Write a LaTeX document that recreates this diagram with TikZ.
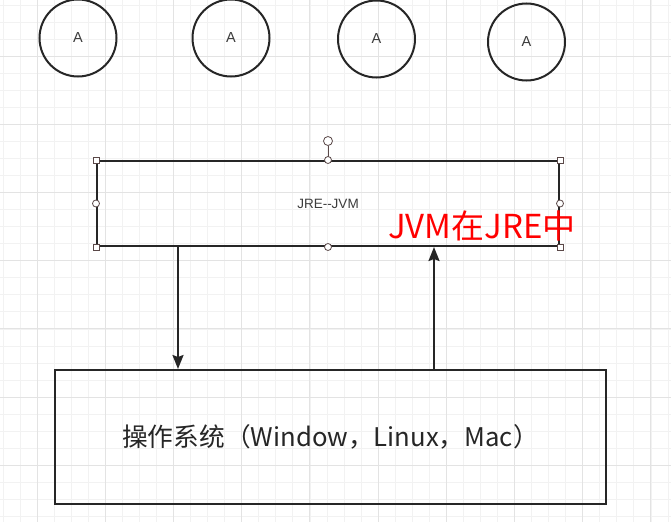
\documentclass[tikz,border=0pt]{standalone}
\usepackage{fontspec}
\setmainfont{Liberation Sans}
\newfontfamily\cjk{Noto Sans CJK SC}
\usepackage{tikz}
\usetikzlibrary{arrows.meta,shapes}
\definecolor{inkgray}{HTML}{262626}
\definecolor{textgray}{HTML}{3C3C3C}
\definecolor{handlegray}{HTML}{5A4848}

\begin{document}
\begin{tikzpicture}[
  state/.style={draw=inkgray,line width=2bp,circle,minimum size=77bp,inner sep=0pt,
    font=\fontsize{14.5bp}{16bp}\selectfont,text=textgray},
  block/.style={draw=inkgray,line width=2bp,rectangle,inner sep=0pt},
  sqhandle/.style={draw=handlegray,fill=white,line width=0.8bp,rectangle,minimum size=6bp,inner sep=0pt},
  rdhandle/.style={draw=handlegray,fill=white,line width=0.8bp,circle,minimum size=7bp,inner sep=0pt},
  flow/.style={-{Stealth[length=14bp,width=11bp,inset=2bp]},line width=2bp,draw=inkgray},
  minorgrid/.style={draw=black!5,line width=0.6bp},
  majorgrid/.style={draw=black!11,line width=0.8bp}
]

\useasboundingbox (0bp,0bp) rectangle (671bp,-522bp);
\fill[white] (0bp,0bp) rectangle (671bp,-522bp);
\begin{scope}
\clip (0bp,0bp) rectangle (671bp,-522bp);
\draw[minorgrid,step=17.05bp,shift={(2.9bp,-4.85bp)}] (-10bp,10bp) grid (680bp,-530bp);
\draw[majorgrid,step=68.2bp,shift={(37bp,-56bp)}] (-70bp,70bp) grid (640bp,-470bp);
\end{scope}

% the four A circles
\node (A1) at (78bp,-38bp)[state] {A};
\node (A2) at (231bp,-38bp)[state] {A};
\node (A3) at (376.5bp,-39bp)[state] {A};
\node (A4) at (526.5bp,-42bp)[state] {A};

% JRE box (selected)
\node (JRE) at (328bp,-203.5bp)[block,minimum width=462bp,minimum height=85bp,
  font=\fontsize{13.5bp}{16bp}\selectfont,text=textgray] {JRE-{}-JVM};
\node (rot) at (328bp,-141bp)[rdhandle,minimum size=9bp] {};
\draw [handlegray,line width=0.8bp] (rot) to (JRE.north);
\node (nw) at (JRE.north west)[sqhandle] {};
\node (ne) at (JRE.north east)[sqhandle] {};
\node (sw) at (JRE.south west)[sqhandle] {};
\node (se) at (JRE.south east)[sqhandle] {};
\node (n) at (JRE.north)[rdhandle] {};
\node (s) at (JRE.south)[rdhandle] {};
\node (w) at (JRE.west)[rdhandle] {};
\node (e) at (JRE.east)[rdhandle] {};

\node (note) at (482bp,-226bp)[inner sep=0pt,text=red,font=\cjk\fontsize{33bp}{38bp}\selectfont] {JVM在JRE中};

% operating system box
\node (OS) at (330.5bp,-437bp)[block,minimum width=551bp,minimum height=134bp,
  font=\cjk\fontsize{25.7bp}{30bp}\selectfont,text=inkgray] {操作系统（Window，Linux，Mac）};

\draw [flow] ([xshift=82bp]JRE.south west) to ([xshift=124bp]OS.north west);
\draw [flow] ([xshift=380bp]OS.north west) to ([xshift=338bp]JRE.south west);
\end{tikzpicture}
\end{document}
